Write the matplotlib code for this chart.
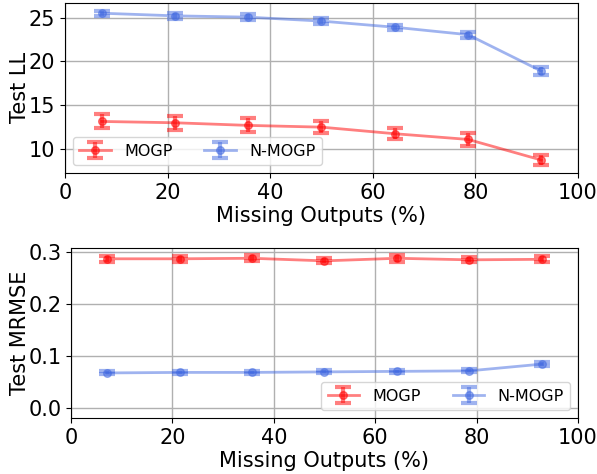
import matplotlib
matplotlib.use("Agg")
import matplotlib.pyplot as plt
import numpy as np

missing = [7.14, 21.43, 35.71, 50.0, 64.29, 78.57, 92.86]
ll_mogp = [13.15, 13.0, 12.7, 12.5, 11.75, 11.1, 8.75]
ll_mogp_err = [0.8, 0.8, 0.8, 0.65, 0.65, 0.7, 0.6]
ll_nmogp = [25.5, 25.2, 25.05, 24.6, 23.9, 23.05, 18.9]
ll_nmogp_err = [0.3, 0.35, 0.35, 0.3, 0.3, 0.35, 0.45]
rm_mogp = [0.287, 0.287, 0.288, 0.283, 0.288, 0.285, 0.286]
rm_mogp_err = [0.006, 0.006, 0.006, 0.005, 0.007, 0.005, 0.006]
rm_nmogp = [0.067, 0.068, 0.068, 0.069, 0.070, 0.071, 0.084]
rm_nmogp_err = [0.003, 0.003, 0.003, 0.003, 0.003, 0.003, 0.004]

fig = plt.figure(figsize=(5.97, 4.74), dpi=100)
ax1 = fig.add_axes([0.109, 0.635, 0.859, 0.359])
ax2 = fig.add_axes([0.119, 0.118, 0.849, 0.359])

kw = dict(marker='o', markersize=5.5, capsize=6, capthick=3, elinewidth=3, lw=2, alpha=0.5)
for ax, (m, me, n, ne), ylabel, loc in [
    (ax1, (ll_mogp, ll_mogp_err, ll_nmogp, ll_nmogp_err), 'Test LL', 'lower left'),
    (ax2, (rm_mogp, rm_mogp_err, rm_nmogp, rm_nmogp_err), 'Test MRMSE', 'lower right')]:
    ax.errorbar(missing, m, yerr=me, color='red', label='MOGP', **kw)
    ax.errorbar(missing, n, yerr=ne, color='royalblue', label='N-MOGP', **kw)
    ax.set_xlim(0, 100)
    ax.grid(True, color='#b0b0b0', lw=1)
    ax.set_xlabel('Missing Outputs (%)', fontsize=15, labelpad=2)
    ax.set_ylabel(ylabel, fontsize=15, labelpad=-1)
    ax.tick_params(labelsize=15)
    ax.legend(loc=loc, ncol=2, fontsize=11.5)

ax2.set_ylim(-0.02, 0.308)
ax2.set_yticks([0.0, 0.1, 0.2, 0.3])
fig.savefig('out.png')
